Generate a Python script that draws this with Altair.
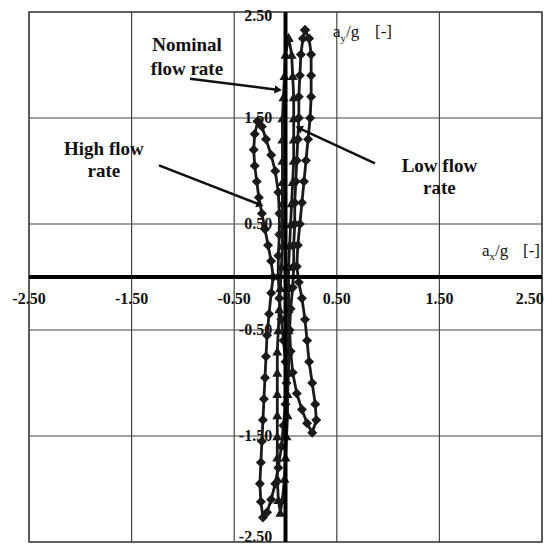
import altair as alt
import pandas as pd

# ---- data ----
low_x = [0.19, 0.23, 0.25, 0.25, 0.25, 0.24, 0.22, 0.20, 0.18, 0.16, 0.14, 0.12, 0.11,
         0.13, 0.16, 0.19, 0.21, 0.23, 0.26, 0.29, 0.30, 0.26,
         0.21, 0.16, 0.11, 0.07, 0.05, 0.04, 0.05, 0.07,
         0.08, 0.08, 0.09, 0.09, 0.10, 0.11, 0.12, 0.13, 0.13, 0.14, 0.15, 0.17, 0.19]
low_y = [2.33, 2.25, 2.10, 1.90, 1.70, 1.50, 1.30, 1.10, 0.90, 0.70, 0.50, 0.30, 0.10,
         -0.05, -0.20, -0.40, -0.60, -0.80, -1.00, -1.20, -1.35, -1.47,
         -1.38, -1.25, -1.10, -0.90, -0.70, -0.50, -0.30, -0.10,
         0.10, 0.30, 0.50, 0.70, 0.90, 1.10, 1.30, 1.50, 1.70, 1.90, 2.10, 2.25, 2.33]

nom_x = [0.03, 0.06, 0.07, 0.08, 0.08, 0.08, 0.08, 0.07, 0.06, 0.05, 0.04, 0.03, 0.03,
         0.03, 0.03, 0.03, 0.03, 0.02, 0.02, 0.01, 0.00, -0.01, -0.03, -0.05,
         -0.07, -0.08, -0.08, -0.08, -0.08, -0.08, -0.08, -0.08, -0.07, -0.06, -0.05,
         -0.04, -0.03, -0.03, -0.03, -0.03, -0.03, -0.03, -0.03, -0.02, -0.01, 0.00, 0.03]
nom_y = [2.26, 2.10, 1.90, 1.70, 1.50, 1.30, 1.10, 0.90, 0.70, 0.50, 0.30, 0.10, -0.10,
         -0.30, -0.50, -0.70, -0.90, -1.10, -1.30, -1.50, -1.70, -1.90, -2.10, -2.22,
         -2.10, -1.90, -1.70, -1.50, -1.30, -1.10, -0.90, -0.70, -0.50, -0.30, -0.10,
         0.10, 0.30, 0.50, 0.70, 0.90, 1.10, 1.30, 1.50, 1.70, 1.90, 2.10, 2.26]

high_x = [-0.27, -0.30, -0.31, -0.30, -0.28, -0.26, -0.23, -0.20, -0.17, -0.14, -0.12,
          -0.14, -0.16, -0.18, -0.19, -0.20, -0.21, -0.22, -0.23, -0.24, -0.25, -0.24, -0.22,
          -0.18, -0.14, -0.10, -0.07, -0.04, -0.02, 0.00, 0.01, 0.00, -0.02, -0.04, -0.06,
          -0.07, -0.07, -0.06, -0.06, -0.07, -0.10, -0.14, -0.19, -0.23, -0.27]
high_y = [1.47, 1.35, 1.20, 1.05, 0.90, 0.75, 0.60, 0.45, 0.30, 0.15, 0.00,
          -0.15, -0.35, -0.55, -0.75, -0.95, -1.15, -1.35, -1.55, -1.75, -1.95, -2.12, -2.27,
          -2.22, -2.10, -1.95, -1.80, -1.60, -1.40, -1.20, -1.00, -0.80, -0.60, -0.40, -0.20,
          0.00, 0.20, 0.40, 0.60, 0.80, 1.00, 1.15, 1.30, 1.42, 1.47]

grid_vals = [-2.5, -1.5, -0.5, 0.5, 1.5, 2.5]
tick_labels = ["-2.50", "-1.50", "-0.50", "0.50", "1.50", "2.50"]
# label anchors (end labels nudged inward so they are not cut by the page edge)
xlabel_pos = [-2.5, -1.5, -0.5, 0.5, 1.5, 2.38]
ylabel_pos = [-2.45, -1.5, -0.5, 0.5, 1.5, 2.46]

# annotations: text lines and arrows (data coordinates)
ann_text = ["Nominal", "flow rate", "High flow", "rate", "Low flow", "rate"]
ann_x = [-0.96, -0.96, -1.77, -1.77, 1.50, 1.50]
ann_y = [2.19, 1.964, 1.203, 0.996, 1.043, 0.836]

arr_x1 = [-0.931, -1.233, 0.872]
arr_y1 = [1.870, 1.053, 1.071]
arr_x2 = [-0.083, -0.258, 0.141]
arr_y2 = [1.767, 0.686, 1.400]
arr_angle = [97, 111, 295]

SERIF = "Liberation Serif"

xs = alt.Scale(domain=[-2.5, 2.5], nice=False, zero=False)
ys = alt.Scale(domain=[-2.5, 2.5], nice=False, zero=False)

def X(f):
    return alt.X(f, type="quantitative", scale=xs, axis=None)

def Y(f):
    return alt.Y(f, type="quantitative", scale=ys, axis=None)

grid_df = pd.DataFrame({"v": grid_vals, "lab": tick_labels,
                        "xp": xlabel_pos, "yp": ylabel_pos})

vgrid = alt.Chart(grid_df).mark_rule(color="#444", strokeWidth=1.2).encode(x=X("v"))
hgrid = alt.Chart(grid_df).mark_rule(color="#444", strokeWidth=1.2).encode(y=Y("v"))

zero_df = pd.DataFrame({"v": [0.0]})
xaxis = alt.Chart(zero_df).mark_rule(color="black", strokeWidth=4).encode(y=Y("v"))
yaxis = alt.Chart(zero_df).mark_rule(color="black", strokeWidth=4).encode(x=X("v"))

xlab_df = grid_df.assign(yy=-0.207)
xlabels = alt.Chart(xlab_df).mark_text(font=SERIF, fontWeight="bold", fontSize=16,
                                       align="center", baseline="middle", color="#111").encode(
    x=X("xp"), y=Y("yy"), text="lab:N")
ylab_df = grid_df.assign(xx=-0.13)
ylabels = alt.Chart(ylab_df).mark_text(font=SERIF, fontWeight="bold", fontSize=16,
                                       align="right", baseline="middle", color="#111").encode(
    x=X("xx"), y=Y("yp"), text="lab:N")

# axis titles (pieces for subscripts)
t_main = pd.DataFrame({"x": [0.463, 0.590, 0.872, 1.915, 2.042, 2.315],
                       "y": [2.265, 2.265, 2.265, 0.197, 0.197, 0.197],
                       "t": ["a", "/g", "[-]", "a", "/g", "[-]"]})
t_sub = pd.DataFrame({"x": [0.536, 1.988], "y": [2.218, 0.160], "t": ["y", "x"]})
titles = alt.Chart(t_main).mark_text(font=SERIF, fontSize=17, align="left",
                                     baseline="alphabetic", color="#111").encode(
    x=X("x"), y=Y("y"), text="t:N")
subs = alt.Chart(t_sub).mark_text(font=SERIF, fontSize=11, align="left",
                                  baseline="alphabetic", color="#111").encode(
    x=X("x"), y=Y("y"), text="t:N")

rows = []
for name, sx, sy in [("high", high_x, high_y), ("nominal", nom_x, nom_y), ("low", low_x, low_y)]:
    for i, (a, b) in enumerate(zip(sx, sy)):
        rows.append({"series": name, "idx": i, "x": a, "y": b})
df = pd.DataFrame(rows)

lines = alt.Chart(df).mark_line(color="#1a1a1a", strokeWidth=2.8).encode(
    x=X("x"), y=Y("y"), detail="series:N", order="idx:Q")
points = alt.Chart(df).mark_point(filled=True, opacity=1, color="#1a1a1a", size=100).encode(
    x=X("x"), y=Y("y"),
    shape=alt.Shape("series:N", scale=alt.Scale(domain=["high", "nominal", "low"],
                                                 range=["diamond", "triangle-up", "diamond"]),
                    legend=None))

ann_df = pd.DataFrame({"x": ann_x, "y": ann_y, "t": ann_text})
ann = alt.Chart(ann_df).mark_text(font=SERIF, fontWeight="bold", fontSize=19,
                                  align="center", baseline="middle", color="#111").encode(
    x=X("x"), y=Y("y"), text="t:N")

arr_df = pd.DataFrame({"x1": arr_x1, "y1": arr_y1, "x2": arr_x2, "y2": arr_y2, "a": arr_angle})
arr_lines = alt.Chart(arr_df).mark_rule(color="#111", strokeWidth=2.5).encode(
    x=X("x1"), y=Y("y1"), x2="x2", y2="y2")
arr_heads = alt.Chart(arr_df).mark_point(shape="triangle", filled=True, opacity=1,
                                          color="#111", size=70).encode(
    x=X("x2"), y=Y("y2"), angle=alt.Angle("a:Q", scale=None))

chart = alt.layer(vgrid, hgrid, xlabels, ylabels, titles, subs, lines, points,
                  xaxis, yaxis, arr_lines, arr_heads, ann).properties(
    width=513, height=530,
    autosize=alt.AutoSizeParams(type="none"),
    padding={"left": 21, "top": 4, "right": 5, "bottom": 3},
    background="white",
).configure_view(stroke="#555", strokeWidth=1.5)

chart.save("out.html", embed_options={"renderer": "svg", "actions": False})
